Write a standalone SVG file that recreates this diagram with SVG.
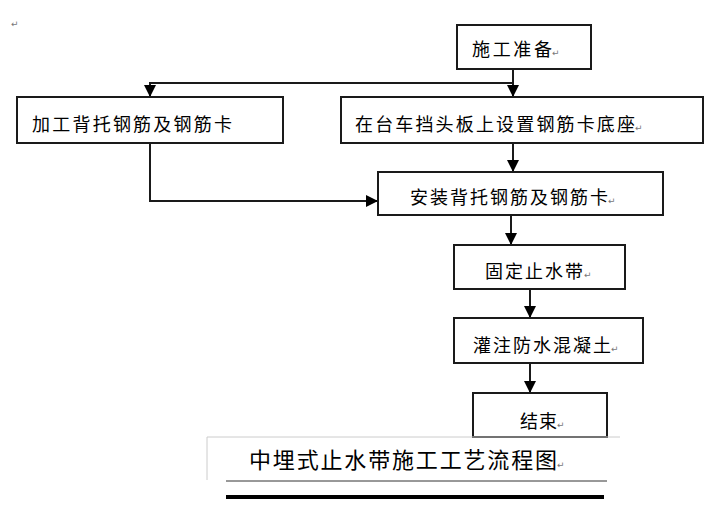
<svg xmlns="http://www.w3.org/2000/svg" width="717" height="521" viewBox="0 0 717 521">
<style>
.box{fill:#fff;stroke:#1a1a1a;stroke-width:2}
.t{font-family:"Liberation Sans","Noto Sans CJK SC",sans-serif;font-size:18px;fill:#000}
.pm{font-family:"DejaVu Sans",sans-serif;font-size:9px;fill:#777}
.ln{fill:none;stroke:#1a1a1a;stroke-width:2}
</style>
<defs>
<marker id="ah" markerWidth="12" markerHeight="12" refX="11" refY="6" orient="auto" markerUnits="userSpaceOnUse">
<path d="M0,0 L12,6 L0,12 Z" fill="#000"/>
</marker>
</defs>
<rect width="717" height="521" fill="#fff"/>
<text class="pm" x="11" y="27">↵</text>
<g id="connectors">
<path class="ln" d="M513,69 V83 H150 V96" marker-end="url(#ah)"/>
<path class="ln" d="M513,83 V96" marker-end="url(#ah)"/>
<path class="ln" d="M513,143 V171" marker-end="url(#ah)"/>
<path class="ln" d="M150,143 V201 H377" marker-end="url(#ah)"/>
<path class="ln" d="M511,215 V244" marker-end="url(#ah)"/>
<path class="ln" d="M530,289 V317" marker-end="url(#ah)"/>
<path class="ln" d="M530,363 V392" marker-end="url(#ah)"/>
</g>
<g id="n1">
<rect class="box" x="457" y="25" width="134" height="44"/>
<text class="t" x="472" y="56" textLength="80" lengthAdjust="spacing">施工准备</text><text class="pm" x="552" y="56">↵</text>
</g>
<g id="n2">
<rect class="box" x="17" y="97" width="266" height="46"/>
<text class="t" x="32" y="131" textLength="200" lengthAdjust="spacing">加工背托钢筋及钢筋卡</text>
</g>
<g id="n3">
<rect class="box" x="341" y="97" width="362" height="46"/>
<text class="t" x="355" y="131" textLength="280" lengthAdjust="spacing">在台车挡头板上设置钢筋卡底座</text><text class="pm" x="635" y="131">↵</text>
</g>
<g id="n4">
<rect class="box" x="378" y="172" width="285" height="43"/>
<text class="t" x="410" y="204" textLength="198" lengthAdjust="spacing">安装背托钢筋及钢筋卡</text><text class="pm" x="608" y="204">↵</text>
</g>
<g id="n5">
<rect class="box" x="454" y="245" width="171" height="44"/>
<text class="t" x="485" y="278" textLength="98" lengthAdjust="spacing">固定止水带</text><text class="pm" x="584" y="278">↵</text>
</g>
<g id="n6">
<rect class="box" x="454" y="318" width="189" height="45"/>
<text class="t" x="473" y="352" textLength="138" lengthAdjust="spacing">灌注防水混凝土</text><text class="pm" x="611" y="352">↵</text>
</g>
<g id="n7">
<rect class="box" x="473" y="393" width="134" height="44"/>
<text class="t" x="520" y="428" textLength="37" lengthAdjust="spacing">结束</text><text class="pm" x="557" y="428">↵</text>
</g>
<g id="title">
<path d="M207,480 V437 H620" fill="none" stroke="#ccc" stroke-width="1"/>
<text class="t" x="249" y="468" style="font-size:22px" textLength="308" lengthAdjust="spacing">中埋式止水带施工工艺流程图</text><text class="pm" x="557" y="468">↵</text>
<line x1="226" y1="481" x2="607" y2="481" stroke="#333" stroke-width="1"/>
<line x1="226" y1="497" x2="604" y2="497" stroke="#000" stroke-width="4"/>
</g>
</svg>
